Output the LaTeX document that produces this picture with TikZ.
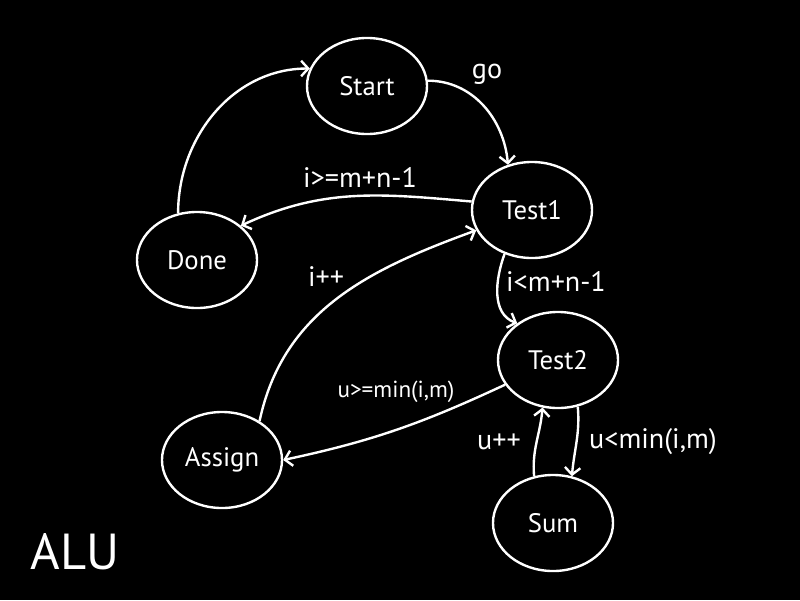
\documentclass[tikz,border=0pt]{standalone}
\usepackage{fontspec}
\setmainfont{PT Sans}
\usetikzlibrary{shapes.geometric}
\usetikzlibrary{arrows.meta}
\tikzset{
	state/.style={
		ellipse,
		draw=white,
		line width=1.7pt,
		minimum width=3cm,
		minimum height=2.4cm,
		inner sep=0pt,
		text=white,
		font=\fontsize{19}{21}\selectfont
	},
	lbl/.style={
		text=white,
		inner sep=0pt,
		font=\fontsize{20}{22}\selectfont
	},
	edge/.style={
		draw=white,
		line width=1.7pt,
		-{Straight Barb[length=5pt,width=11pt]}
	}
}

\begin{document}
\begin{tikzpicture}[x=0.025cm,y=-0.025cm]
	\fill[black] (0,0) rectangle (800,600);
	\useasboundingbox (0,0) rectangle (800,600);

	\node[state] (Start) at (367,86) {Start};
	\node[state] (Test1) at (532,210) {Test1};
	\node[state] (Done) at (197,260) {Done};
	\node[state] (Test2) at (558,360) {Test2};
	\node[state] (Assign) at (222,460) {Assign};
	\node[state] (Sum) at (553,523) {Sum};

	\draw [edge] (Done.112) to[out=90, in=180] (Start.163);
	\draw [edge] (Start.5) to[out=0, in=95] (Test1.118);
	\draw [edge] (Test1.172) to[out=175, in=25] (Done.38);
	\draw [edge] (Test1.238) to[out=250, in=160] (Test2.138);
	\draw [edge] (Test2.205) to[out=205, in=12] (Assign.east);
	\draw [edge] (Assign.46) to[out=78, in=200] (Test1.200);
	\draw [edge] (Sum.112) to[out=95, in=265] (Test2.252);
	\draw [edge] (Test2.293) to[out=-85, in=85] (Sum.68);

	\node[lbl] (Lgo) at (487,74) {go};
	\node[lbl] (Ldone) at (360,177) {i>=m+n-1};
	\node[lbl] (Ltest) at (556,281) {i<m+n-1};
	\node[lbl] (Linc) at (326,277) {i++};
	\node[lbl, font=\fontsize{16.5}{18}\selectfont] (Lassign) at (396,392) {u>=min(i,m)};
	\node[lbl] (Lu) at (499,442) {u++};
	\node[lbl] (Lsum) at (653,442) {u<min(i,m)};
	\node[lbl, font=\fontsize{36}{38}\selectfont] (Alu) at (75,552) {ALU};
\end{tikzpicture}
\end{document}
